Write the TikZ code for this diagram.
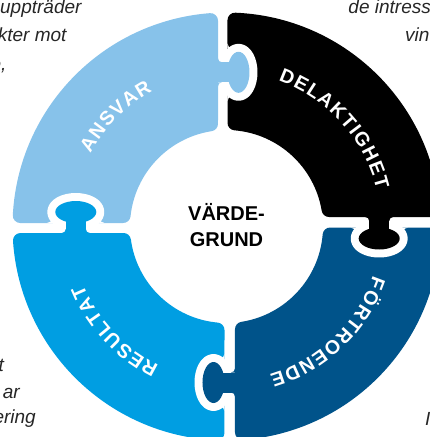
\documentclass[tikz,border=0pt]{standalone}
\usepackage{fontspec}
\setmainfont{Liberation Sans}
\definecolor{cAns}{HTML}{87C2EA}
\definecolor{cRes}{HTML}{009EE2}
\definecolor{cFor}{HTML}{00538A}
\definecolor{cDel}{HTML}{000000}
\def\track{2.0}
\def\lblsize{19.5}
% #1 centre angle, #2 baseline radius, #3 spacing radius, #4 list letter/width(per mille)
\newcommand\arclabel[4]{%
  \gdef\totw{0}%
  \foreach \ch/\cw in {#4}{%
    \pgfmathparse{\totw+\cw*\lblsize/1000+\track}%
    \xdef\totw{\pgfmathresult}%
  }%
  \pgfmathsetmacro\halfw{(\totw-\track)/2}%
  \gdef\curs{0}%
  \foreach \ch/\cw in {#4}{%
    \pgfmathsetmacro\wch{\cw*\lblsize/1000}%
    \pgfmathsetmacro\ang{#1+(\halfw-\curs-\wch/2)/#3*180/pi}%
    \node[lbl, rotate=\ang-90] at (\ang:#2) {\ch};%
    \pgfmathparse{\curs+\wch+\track}%
    \xdef\curs{\pgfmathresult}%
  }%
}
\newcommand\tabpiece[4]{%
  \begin{scope}[shift={#1}, rotate=#2]
    \begin{scope}
      \clip (#3/2,-60) -- (70,-60) -- (70,60) -- (#3/2,60) -- cycle;
      \fill[moat] (#3+11,0) ellipse [x radius=11, y radius=20.5];
      \fill[moat] (0,-10) -- (#3+5,-10) -- (#3+5,10) -- (0,10) -- cycle;
      \fill[white] (#3,23.7) -- (#3,28.7) arc[start angle=180, end angle=270, radius=5] -- cycle;
      \fill[white] (#3,-23.7) -- (#3,-28.7) arc[start angle=180, end angle=90, radius=5] -- cycle;
    \end{scope}
    \fill[#4] (#3+11,0) ellipse [x radius=11, y radius=20.5];
    \fill[#4] (-1,-10) -- (#3+5,-10) -- (#3+5,10) -- (-1,10) -- cycle;
    \fill[#4] (0,14) -- (0,10) -- (4,10) arc[start angle=270, end angle=180, radius=4] -- cycle;
    \fill[#4] (0,-14) -- (0,-10) -- (4,-10) arc[start angle=90, end angle=180, radius=4] -- cycle;
  \end{scope}}
\tikzset{
  piece/.style={fill=#1, draw=#1, line width=15pt, line join=round},
  moat/.style={fill=white, draw=white, line width=16pt, line join=round},
  lbl/.style={anchor=base, inner sep=0pt, text=white, font=\bfseries\fontsize{19.5}{21}\selectfont},
  ctr/.style={anchor=base, inner sep=0pt, font=\bfseries\fontsize{20}{24}\selectfont},
  frag/.style={inner sep=0pt, text=black!85, font=\itshape\fontsize{19}{22}\selectfont}
}
\begin{document}
\begin{tikzpicture}[x=1pt,y=1pt]
\useasboundingbox (-226.5,-210.5) rectangle (202.5,226.5);
% pieces
\fill[piece=cAns] (94.44:206.5) arc[start angle=94.44, end angle=176.95, radius=206.5] -- (173.93:104) arc[start angle=173.93, end angle=98.85, radius=104] -- cycle;
\fill[piece=cDel] (4.72:206.5) arc[start angle=4.72, end angle=87.64, radius=206.5] -- (85.31:104) arc[start angle=85.31, end angle=9.41, radius=104] -- cycle;
\fill[piece=cFor] (-85.56:206.5) arc[start angle=-85.56, end angle=-2.36, radius=206.5] -- (-4.69:104) arc[start angle=-4.69, end angle=-81.15, radius=104] -- cycle;
\fill[piece=cRes] (183.89:206.5) arc[start angle=183.89, end angle=267.36, radius=206.5] -- (264.76:104) arc[start angle=264.76, end angle=187.74, radius=104] -- cycle;
% tabs
\tabpiece{(-8.5,154.2)}{0}{9.5}{cAns}
\tabpiece{(152.7,9.5)}{-90}{10.5}{cDel}
\tabpiece{(8.5,-156)}{180}{10.5}{cFor}
\tabpiece{(-150.7,-6.5)}{90}{10}{cRes}
% ring labels
\arclabel{135.2}{154.5}{161}{A/722,N/722,S/667,V/667,A/722,R/722}
\arclabel{42.1}{154.5}{161}{D/722,E/667,L/611,A/722,K/722,T/611,I/278,G/778,H/722,E/667,T/611}
\arclabel{-46.2}{154.5}{161}{F/611,Ö/778,R/722,T/611,R/722,O/778,E/667,N/722,D/722,E/667}
\arclabel{223}{154.5}{161}{R/722,E/667,S/667,U/722,L/611,T/611,A/722,T/611}
% centre
\node[ctr] (v1) at (0,6.5) {VÄRDE-};
\node[ctr] (v2) at (0,-20.2) {GRUND};
% corner fragments
\node[frag, anchor=base east] (t1) at (-144.8,213.2) {uppträder};
\node[frag, anchor=base east] (t2) at (-159.8,184.8) {kter mot};
\node[frag, anchor=base east] (t3) at (-219.8,156.5) {e,};
\node[frag, anchor=base west] (t4) at (121.8,213.2) {de intress};
\node[frag, anchor=base west] (t5) at (178.5,184.8) {vin};
\node[frag, anchor=base east] (t6) at (-222.5,-145.2) {t};
\node[frag, anchor=base east] (t7) at (-206.5,-171.8) {ar};
\node[frag, anchor=base east] (t8) at (-190.5,-196.8) {ering};
\node[frag, anchor=base west] (t9) at (198.5,-198.5) {I};
\end{tikzpicture}
\end{document}
